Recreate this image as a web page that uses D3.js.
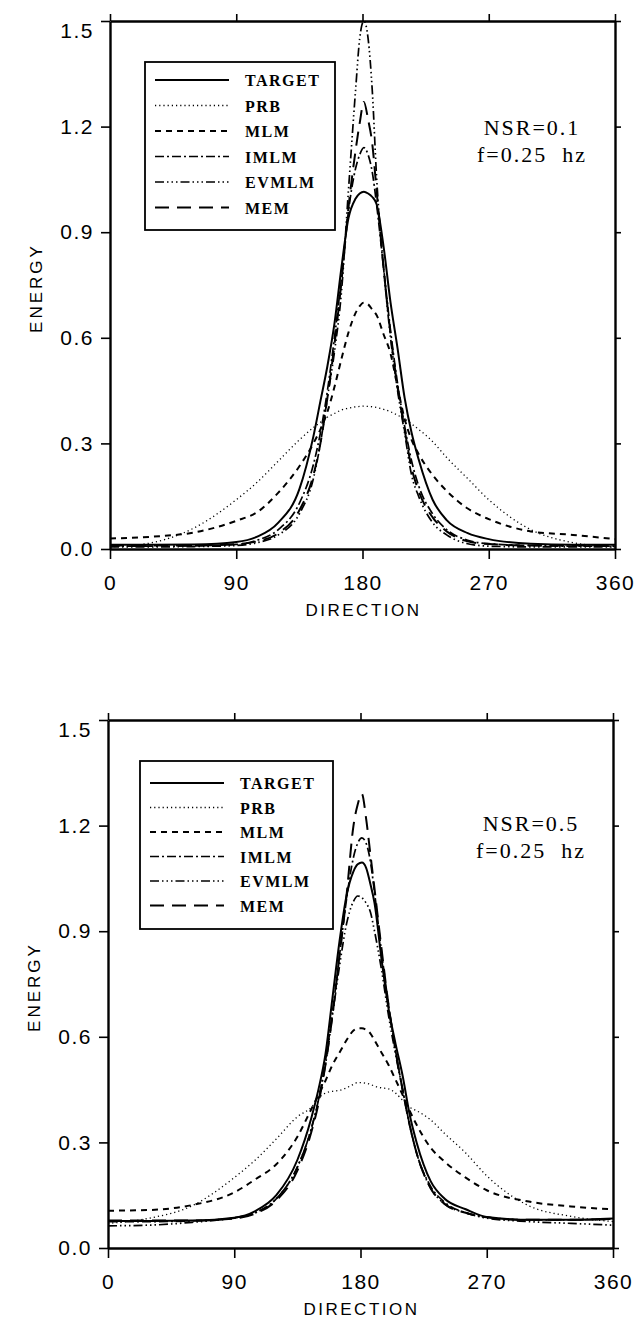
<!DOCTYPE html>
<html>
<head>
<meta charset="utf-8">
<script src="https://cdn.jsdelivr.net/npm/d3@7"></script>
<style>
  html, body { margin: 0; padding: 0; background: #fff; }
  svg { display: block; }
</style>
</head>
<body>
<svg id="chart" width="641" height="1324"></svg>
<script>
// Direction samples (degrees) shared by every series
const directions = [0, 30, 60, 90, 105, 120, 135, 145, 150, 155, 160, 165, 170, 175, 178, 181,
  184, 187, 190, 195, 200, 205, 210, 215, 220, 230, 240, 255, 270, 300, 330, 360];

const seriesNames = ["TARGET", "PRB", "MLM", "IMLM", "EVMLM", "MEM"];

// Panel 1: NSR = 0.1
const targetA = [0.012, 0.012, 0.013, 0.02, 0.035, 0.075, 0.17, 0.32, 0.42, 0.52, 0.64, 0.80, 0.94, 0.995, 1.01, 1.015,
  1.01, 1.0, 0.98, 0.86, 0.70, 0.57, 0.43, 0.33, 0.255, 0.14, 0.082, 0.045, 0.028, 0.015, 0.012, 0.012];
const prbA = [0.006, 0.018, 0.06, 0.14, 0.19, 0.25, 0.31, 0.345, 0.36, 0.375, 0.385, 0.395, 0.40, 0.404, 0.405, 0.406,
  0.405, 0.404, 0.402, 0.397, 0.39, 0.38, 0.37, 0.355, 0.34, 0.305, 0.26, 0.20, 0.14, 0.055, 0.018, 0.006];
const mlmA = [0.03, 0.035, 0.047, 0.08, 0.105, 0.16, 0.235, 0.30, 0.34, 0.39, 0.46, 0.54, 0.615, 0.67, 0.69, 0.70,
  0.695, 0.68, 0.665, 0.61, 0.555, 0.46, 0.37, 0.31, 0.27, 0.21, 0.165, 0.115, 0.085, 0.05, 0.04, 0.028];
const imlmA = [0.008, 0.008, 0.009, 0.013, 0.025, 0.055, 0.13, 0.24, 0.33, 0.45, 0.60, 0.77, 0.96, 1.08, 1.12, 1.14,
  1.12, 1.07, 0.98, 0.80, 0.62, 0.47, 0.35, 0.25, 0.18, 0.10, 0.055, 0.025, 0.015, 0.01, 0.008, 0.008];
const evmlmA = [0.006, 0.006, 0.007, 0.01, 0.018, 0.04, 0.10, 0.20, 0.30, 0.43, 0.56, 0.73, 1.02, 1.30, 1.45, 1.50,
  1.45, 1.30, 1.06, 0.80, 0.60, 0.45, 0.33, 0.21, 0.15, 0.075, 0.04, 0.015, 0.008, 0.006, 0.006, 0.006];
const memA = [0.01, 0.01, 0.01, 0.014, 0.022, 0.045, 0.11, 0.21, 0.30, 0.43, 0.58, 0.76, 0.97, 1.13, 1.21, 1.27,
  1.22, 1.15, 1.02, 0.80, 0.61, 0.46, 0.34, 0.23, 0.165, 0.09, 0.05, 0.022, 0.014, 0.01, 0.01, 0.01];

// Panel 2: NSR = 0.5
const targetB = [0.077, 0.077, 0.078, 0.086, 0.105, 0.15, 0.25, 0.37, 0.45, 0.55, 0.71, 0.87, 1.0, 1.07, 1.09, 1.095,
  1.08, 1.035, 0.98, 0.82, 0.68, 0.58, 0.49, 0.38, 0.30, 0.19, 0.14, 0.11, 0.088, 0.08, 0.08, 0.084];
const prbB = [0.07, 0.085, 0.12, 0.20, 0.25, 0.31, 0.373, 0.40, 0.425, 0.44, 0.445, 0.448, 0.455, 0.465, 0.47, 0.47,
  0.468, 0.465, 0.46, 0.455, 0.452, 0.44, 0.42, 0.40, 0.39, 0.364, 0.325, 0.27, 0.205, 0.12, 0.09, 0.075];
const mlmB = [0.106, 0.108, 0.122, 0.158, 0.195, 0.238, 0.316, 0.395, 0.435, 0.475, 0.52, 0.555, 0.59, 0.618, 0.624, 0.624,
  0.62, 0.61, 0.59, 0.555, 0.52, 0.478, 0.435, 0.39, 0.35, 0.285, 0.245, 0.20, 0.164, 0.132, 0.118, 0.11];
const imlmB = [0.075, 0.075, 0.077, 0.085, 0.10, 0.14, 0.23, 0.34, 0.42, 0.53, 0.67, 0.83, 0.99, 1.11, 1.15, 1.165,
  1.15, 1.10, 1.01, 0.84, 0.69, 0.56, 0.45, 0.35, 0.27, 0.175, 0.13, 0.10, 0.088, 0.08, 0.08, 0.082];
const evmlmB = [0.063, 0.065, 0.073, 0.086, 0.10, 0.14, 0.23, 0.34, 0.42, 0.52, 0.66, 0.80, 0.92, 0.985, 1.0, 0.995,
  0.98, 0.955, 0.90, 0.79, 0.66, 0.55, 0.45, 0.35, 0.27, 0.17, 0.125, 0.10, 0.085, 0.075, 0.07, 0.065];
const memB = [0.078, 0.078, 0.078, 0.084, 0.098, 0.135, 0.22, 0.33, 0.41, 0.52, 0.66, 0.83, 1.0, 1.20, 1.26, 1.29,
  1.22, 1.12, 1.02, 0.85, 0.69, 0.56, 0.45, 0.35, 0.27, 0.17, 0.125, 0.10, 0.087, 0.08, 0.08, 0.082];

const yTicks = [0, 0.3, 0.6, 0.9, 1.2, 1.5];
const xTicks = [0, 90, 180, 270, 360];
const nsrLabels = ["NSR=0.1", "NSR=0.5"];
const freqLabel = "f=0.25  hz";
const xTitle = "DIRECTION";
const yTitle = "ENERGY";

// Line styles per estimator
const lineStyle = {
  TARGET: { dash: null, width: 2.0 },
  PRB:    { dash: "1.2,3", width: 1.3 },
  MLM:    { dash: "6,5", width: 2.0 },
  IMLM:   { dash: "9,3,2,3", width: 1.7 },
  EVMLM:  { dash: "9,3,1.5,3,1.5,3,1.5,3", width: 1.7 },
  MEM:    { dash: "14,8", width: 2.0 }
};

const svg = d3.select("#chart");

const panels = [
  { box: { left: 110, right: 615, top: 21, bottom: 549 },
    legend: { x: 145, y: 62, w: 190, h: 168, row0: 18, step: 25.5 },
    note: { x: 532, y: 127 },
    values: [targetA, prbA, mlmA, imlmA, evmlmA, memA], nsr: nsrLabels[0] },
  { box: { left: 108, right: 613, top: 720, bottom: 1248 },
    legend: { x: 140, y: 761, w: 193, h: 168, row0: 22, step: 24.5 },
    note: { x: 531, y: 823 },
    values: [targetB, prbB, mlmB, imlmB, evmlmB, memB], nsr: nsrLabels[1] }
];

panels.forEach(p => drawPanel(p));

function drawPanel(p) {
  const b = p.box;
  const x = d3.scaleLinear().domain([0, 360]).range([b.left, b.right]);
  const y = d3.scaleLinear().domain([0, 1.5]).range([b.bottom, b.top]);
  const g = svg.append("g");

  const minorX = d3.range(0, 360.01, 22.5);
  const minorY = d3.range(0, 1.5001, 0.075);

  // Left axis: labelled majors + minor marks
  const left = g.append("g").attr("transform", `translate(${b.left},0)`);
  left.call(d3.axisLeft(y).tickValues(minorY).tickSize(3).tickSizeOuter(0).tickFormat(""));
  left.call(d3.axisLeft(y).tickValues(yTicks).tickSize(9).tickSizeOuter(0).tickPadding(7)
    .tickFormat(d3.format(".1f")));
  left.selectAll("text").filter(d => d === 1.5).attr("transform", "translate(0,10)");

  // Bottom axis
  const bottom = g.append("g").attr("transform", `translate(0,${b.bottom})`);
  bottom.call(d3.axisBottom(x).tickValues(minorX).tickSize(5).tickSizeOuter(0).tickFormat(""));
  bottom.call(d3.axisBottom(x).tickValues(xTicks).tickSize(10).tickSizeOuter(0).tickPadding(16)
    .tickFormat(d3.format("d")));

  // Top border with ticks
  const top = g.append("g").attr("transform", `translate(0,${b.top})`);
  top.call(d3.axisTop(x).tickValues(minorX).tickSize(3).tickSizeOuter(0).tickFormat(""));
  top.call(d3.axisTop(x).tickValues(xTicks).tickSize(7).tickSizeOuter(0).tickFormat(""));

  // Right border with ticks
  const right = g.append("g").attr("transform", `translate(${b.right},0)`);
  right.call(d3.axisRight(y).tickValues(minorY).tickSize(2).tickSizeOuter(0).tickFormat(""));
  right.call(d3.axisRight(y).tickValues(yTicks).tickSize(6).tickSizeOuter(0).tickFormat(""));

  g.selectAll(".domain").attr("stroke", "#000").attr("stroke-width", 2.4);
  g.selectAll(".tick line").attr("stroke", "#000").attr("stroke-width", 1.6);
  g.selectAll(".tick text")
    .attr("fill", "#000")
    .style("font-family", "'Liberation Sans', Arial, sans-serif")
    .style("font-size", "21px")
    .style("letter-spacing", "1.5px");

  // Axis titles
  g.append("text")
    .attr("x", (b.left + b.right) / 2 + 1)
    .attr("y", b.bottom + 67)
    .attr("text-anchor", "middle")
    .style("font-family", "'Liberation Sans', Arial, sans-serif")
    .style("font-size", "17px")
    .style("letter-spacing", "2.5px")
    .text(xTitle);
  g.append("text")
    .attr("transform", `translate(${b.left - 68},${(b.top + b.bottom) / 2 + 3}) rotate(-90)`)
    .attr("text-anchor", "middle")
    .style("font-family", "'Liberation Sans', Arial, sans-serif")
    .style("font-size", "17px")
    .style("letter-spacing", "3px")
    .text(yTitle);

  // Curves
  const line = d3.line()
    .x(d => x(d[0]))
    .y(d => y(d[1]))
    .curve(d3.curveMonotoneX);

  seriesNames.forEach((name, i) => {
    const pts = directions.map((dir, k) => [dir, p.values[i][k]]);
    const st = lineStyle[name];
    g.append("path")
      .datum(pts)
      .attr("d", line)
      .attr("fill", "none")
      .attr("stroke", "#000")
      .attr("stroke-width", st.width)
      .attr("stroke-dasharray", st.dash)
      .attr("stroke-linejoin", "round");
  });

  // Legend
  const L = p.legend;
  const lg = g.append("g");
  lg.append("rect")
    .attr("x", L.x).attr("y", L.y).attr("width", L.w).attr("height", L.h)
    .attr("fill", "#fff").attr("stroke", "#000").attr("stroke-width", 1.8);
  seriesNames.forEach((name, i) => {
    const ry = L.y + L.row0 + i * L.step;
    const st = lineStyle[name];
    lg.append("line")
      .attr("x1", L.x + 10).attr("x2", L.x + 84)
      .attr("y1", ry).attr("y2", ry)
      .attr("stroke", "#000")
      .attr("stroke-width", st.width)
      .attr("stroke-dasharray", st.dash);
    lg.append("text")
      .attr("x", L.x + 100).attr("y", ry + 6)
      .style("font-family", "'Liberation Serif', 'Times New Roman', serif")
      .style("font-weight", "bold")
      .style("font-size", "16px")
      .style("letter-spacing", "1.5px")
      .text(name);
  });

  // Case annotation
  const note = g.append("g")
    .style("font-family", "'Liberation Serif', 'Times New Roman', serif")
    .style("font-size", "22px")
    .style("letter-spacing", "2px")
    .attr("text-anchor", "middle");
  note.append("text").attr("x", p.note.x).attr("y", p.note.y + 8).text(p.nsr);
  note.append("text").attr("x", p.note.x).attr("y", p.note.y + 35)
    .style("white-space", "pre").text(freqLabel);
}
</script>
</body>
</html>
